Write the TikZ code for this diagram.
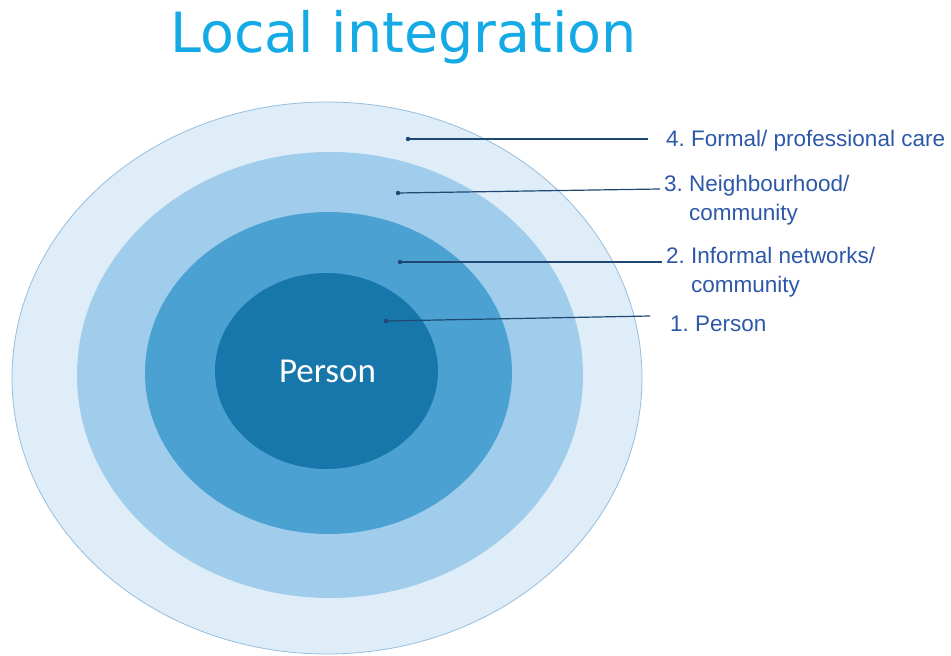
\documentclass[tikz,border=0pt]{standalone}
\usepackage{fontspec}
\setmainfont{Liberation Sans}
\newfontfamily\titlefont{DejaVu Sans}
\newfontfamily\centrefont{Carlito}
\usetikzlibrary{shapes.geometric, positioning}
\frenchspacing
\definecolor{my_title}{RGB}{19, 170, 230}
\definecolor{my_text}{RGB}{45, 88, 168}
\definecolor{my_ring4}{RGB}{222, 237, 248}
\definecolor{my_ring3}{RGB}{160, 205, 235}
\definecolor{my_ring2}{RGB}{76, 161, 211}
\definecolor{my_ring1}{RGB}{23, 118, 170}
\definecolor{my_edge}{RGB}{150, 190, 222}
\definecolor{my_line}{RGB}{31, 72, 115}
\tikzset {
  ring/.style = {ellipse, inner sep=0pt, outer sep=0pt},
  dot/.style = {circle, fill=my_line, inner sep=0pt, minimum size=4.5pt},
  pointer/.style = {line width=1.2pt, color=my_line},
  layer/.style = {anchor=base west, align=left, text=my_text, inner sep=0pt,
                  font=\fontsize{22.5}{29}\selectfont},
}

\begin{document}
\begin{tikzpicture}[x=1pt, y=1pt]
    \useasboundingbox (0,0) rectangle (951,656);

    \node[anchor=base, text=my_title, font=\titlefont\fontsize{55.5}{60}\selectfont] (title) at (403.5,603) {Local integration};

    % rings, outside in
    \node[ring, fill=my_ring4, draw=my_edge, line width=0.8pt, minimum width=630pt, minimum height=552pt] (ring4) at (327,278) {};
    \node[ring, fill=my_ring3, minimum width=506pt, minimum height=446pt] (ring3) at (330,281) {};
    \node[ring, fill=my_ring2, minimum width=367pt, minimum height=322pt] (ring2) at (328.5,283) {};
    \node[ring, fill=my_ring1, minimum width=223pt, minimum height=196pt] (ring1) at (326.5,285) {};
    \node[anchor=base, text=white, inner sep=0pt, font=\centrefont\fontsize{35}{40}\selectfont] (person) at (327.5,273) {Person};

    % labels (base = last line)
    \node[layer] (lbl4) at (666,509) {4. Formal/ professional care};
    \node[layer] (lbl3) at (664,435) {3. Neighbourhood/\\\phantom{3. }community};
    \node[layer] (lbl2) at (666,363) {2. Informal networks/\\\phantom{2. }community};
    \node[layer] (lbl1) at (670,324) {1. Person};

    \node[dot] (dot4) at (408,517) {};
    \node[dot] (dot3) at (398,463) {};
    \node[dot] (dot2) at (400,394) {};
    \node[dot] (dot1) at (386,335) {};

    \coordinate (tip4) at (648,517);
    \coordinate (tip3) at (660,467);
    \coordinate (tip2) at (662,394);
    \coordinate (tip1) at (650,340);

    \draw[pointer] (dot4.center) -- (tip4);
    \draw[pointer] (dot3.center) -- (tip3);
    \draw[pointer] (dot2.center) -- (tip2);
    \draw[pointer] (dot1.center) -- (tip1);

\end{tikzpicture}
\end{document}
